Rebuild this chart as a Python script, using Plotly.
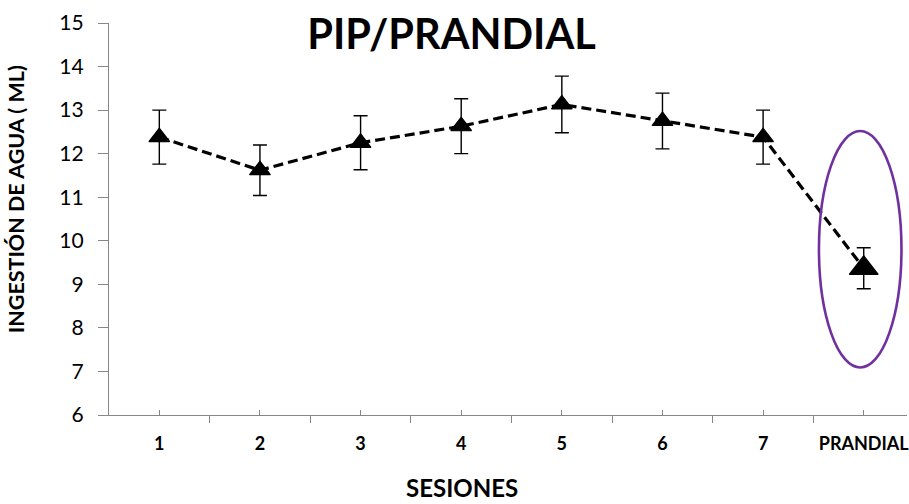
import plotly.graph_objects as go

# Sessions on the x axis and mean water intake (ml) with error bars
sesiones = ["1", "2", "3", "4", "5", "6", "7", "PRANDIAL"]
ingestion = [12.38, 11.62, 12.25, 12.63, 13.13, 12.75, 12.38, 9.37]
error = [0.62, 0.58, 0.62, 0.63, 0.65, 0.64, 0.62, 0.47]
marker_sizes = [18, 18, 18, 18, 18, 18, 18, 25]

# Highlight ellipse around the PRANDIAL session (data units)
ellipse_halfwidth = 0.41
ellipse_y = [7.09, 12.52]

AXIS_GRAY = "#878787"
FONT = "Lato"

x_idx = list(range(len(sesiones)))

fig = go.Figure()
fig.add_trace(go.Scatter(
    x=x_idx,
    y=ingestion,
    mode="lines+markers",
    line=dict(color="black", width=3.2, dash="10px,5px"),
    marker=dict(symbol="triangle-up", size=marker_sizes, color="black",
                opacity=1, line=dict(color="black", width=1.2)),
    error_y=dict(type="data", array=error, visible=True,
                 color="black", thickness=1.4, width=7),
    showlegend=False,
))

hl = len(sesiones) - 1
fig.add_shape(
    type="circle", xref="x", yref="y",
    x0=hl - 0.035 - ellipse_halfwidth, x1=hl - 0.035 + ellipse_halfwidth,
    y0=ellipse_y[0], y1=ellipse_y[1],
    line=dict(color="#7030A0", width=2.6),
)

fig.update_layout(
    width=909, height=504,
    margin=dict(l=109, r=0, t=23, b=89),
    paper_bgcolor="white", plot_bgcolor="white",
    font=dict(family=FONT, color="black"),
    title=dict(text="<b>PIP/PRANDIAL</b>", xref="container", yref="container",
               x=0.4967, y=0.9325, xanchor="center", yanchor="middle",
               font=dict(family=FONT, size=41.5, color="black")),
    xaxis=dict(
        range=[-0.5, 7.43],
        tickmode="array", tickvals=x_idx,
        ticktext=["<b>%s</b>" % s for s in sesiones],
        tickfont=dict(family=FONT, size=18, color="black"),
        ticklabeloverflow="allow",
        ticks="inside", ticklen=5, tickcolor=AXIS_GRAY, tickwidth=1.3,
        ticklabelstandoff=12,
        minor=dict(ticks="outside", ticklen=7, tickcolor=AXIS_GRAY,
                   tickwidth=1.3, tick0=-0.5, dtick=1),
        showline=True, linecolor=AXIS_GRAY, linewidth=1.3,
        showgrid=False, zeroline=False,
    ),
    yaxis=dict(
        range=[6, 15], dtick=1, tick0=6,
        tickfont=dict(family=FONT, size=21, color="black"),
        ticks="outside", ticklen=10, tickcolor=AXIS_GRAY, tickwidth=1.3,
        ticklabelstandoff=10,
        showline=True, linecolor=AXIS_GRAY, linewidth=1.3,
        showgrid=False, zeroline=False,
    ),
    annotations=[
        dict(text="<b>INGESTIÓN DE AGUA ( ML)</b>", textangle=-90,
             xref="paper", yref="paper", x=-0.1156, y=0.55,
             xanchor="center", yanchor="middle", showarrow=False,
             font=dict(family=FONT, size=21.5, color="black")),
        dict(text="<b>SESIONES</b>",
             xref="paper", yref="paper", x=0.4425, y=-0.227,
             xanchor="center", yanchor="bottom", showarrow=False,
             font=dict(family=FONT, size=24, color="black")),
    ],
)

fig.write_html("out.html")
